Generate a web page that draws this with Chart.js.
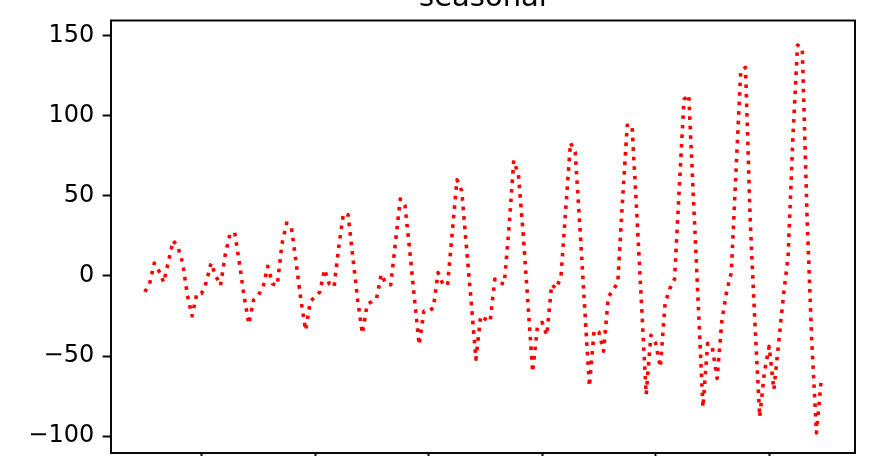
<!DOCTYPE html>
<html>
<head>
<meta charset="utf-8">
<script src="https://cdn.jsdelivr.net/npm/chart.js@4/dist/chart.umd.min.js"></script>
<style>
  html, body { margin: 0; padding: 0; background: #ffffff; overflow: hidden; width: 872px; height: 456px; }
  #wrap { position: absolute; left: 0; top: -40px; width: 872px; height: 543px; }
</style>
</head>
<body>
<div id="wrap"><canvas id="chart" width="872" height="543"></canvas></div>
<script>
// Seasonal component, monthly, one array per year (Jan..Dec)
const seasonal1949 = [-10, -5, 8, 3, -4, 9, 22, 18, 8, -12, -25, -11];
const seasonal1950 = [-11, -4, 8, 0, -6, 13, 26, 27, 8, -13, -30, -15];
const seasonal1951 = [-12, -7, 6, -5, -6, 20, 33, 30, 8, -15, -34, -16];
const seasonal1952 = [-13, -10, 4, -5, -7, 18, 39, 38, 11, -15, -36, -18];
const seasonal1953 = [-16, -14, 1, -5, -5.5, 21, 48, 44, 16, -14, -43, -22];
const seasonal1954 = [-22, -20, 2, -5, -6, 27, 60, 53, 18, -16, -52, -25];
const seasonal1955 = [-27, -28.5, -2, -4.5, -5, 30, 72, 63, 26, -17, -60, -32];
const seasonal1956 = [-29, -37, -5.5, -8, 0, 42, 83, 77, 30, -20, -69, -34];
const seasonal1957 = [-35, -47, -13, -9, -4, 47, 94, 94, 40, -17, -74, -37];
const seasonal1958 = [-42, -57, -17, -8, -2, 55, 110, 113, 48, -17, -82, -42];
const seasonal1959 = [-45, -64, -28, -10, 2, 66, 128, 130, 34, -30, -88, -60];
const seasonal1960 = [-44, -71, -42, -13, 12, 85, 144, 142, 38, -40, -98, -65];

const xTickMonths = [12, 36, 60, 84, 108, 132];       // month index of each labelled January
const xTickLabels = ['1950', '1952', '1954', '1956', '1958', '1960'];
const yTickValues = [-100, -50, 0, 50, 100, 150];
const titleText = 'seasonal';

const seasonal = [].concat(
  seasonal1949, seasonal1950, seasonal1951, seasonal1952,
  seasonal1953, seasonal1954, seasonal1955, seasonal1956,
  seasonal1957, seasonal1958, seasonal1959, seasonal1960
);
const points = seasonal.map((v, i) => ({ x: i, y: v }));

const PT = 2.4; // pixels per point
const FONT = "'DejaVu Sans', sans-serif";

// black frame around the plotting area, and the axes title centred over it
const frame = {
  id: 'frame',
  afterDatasetsDraw(chart) {
    const a = chart.chartArea, ctx = chart.ctx;
    ctx.save();
    ctx.strokeStyle = '#000';
    ctx.lineWidth = 0.8 * PT;
    ctx.strokeRect(a.left, a.top, a.right - a.left, a.bottom - a.top);
    ctx.fillStyle = '#000';
    ctx.font = '29px ' + FONT;
    ctx.textAlign = 'center';
    ctx.textBaseline = 'alphabetic';
    ctx.fillText(titleText, (a.left + a.right) / 2, a.top - 6 * PT);
    ctx.restore();
  }
};

new Chart(document.getElementById('chart'), {
  type: 'line',
  data: {
    datasets: [{
      data: points,
      borderColor: '#ff0000',
      borderWidth: 1.5 * PT,
      borderDash: [1.5 * PT, 1.5 * 1.65 * PT],
      borderCapStyle: 'butt',
      borderJoinStyle: 'round',
      pointRadius: 0,
      tension: 0,
      fill: false
    }]
  },
  options: {
    responsive: false,
    animation: false,
    devicePixelRatio: 1,
    layout: { padding: { left: 0, right: 17, top: 60.5, bottom: 0 } },
    plugins: {
      legend: { display: false },
      tooltip: { enabled: false },
      title: { display: false }
    },
    scales: {
      x: {
        type: 'linear',
        min: -7.15,
        max: 150.15,
        afterBuildTicks: (scale) => { scale.ticks = xTickMonths.map(v => ({ value: v })); },
        afterFit: (scale) => { scale.height = 50; },
        border: { display: false },
        grid: { drawOnChartArea: false, drawTicks: true, tickLength: 3.5 * PT, tickWidth: 0.8 * PT, tickColor: '#000' },
        ticks: {
          color: '#000',
          padding: 3.5 * PT,
          maxRotation: 0,
          autoSkip: false,
          font: { family: FONT, size: 24 },
          callback: (v) => { const k = xTickMonths.indexOf(v); return k >= 0 ? xTickLabels[k] : ''; }
        }
      },
      y: {
        type: 'linear',
        min: -110.5,
        max: 159.3,
        afterBuildTicks: (scale) => { scale.ticks = yTickValues.map(v => ({ value: v })); },
        afterFit: (scale) => { scale.width = 111; },
        border: { display: false },
        grid: { drawOnChartArea: false, drawTicks: true, tickLength: 3.5 * PT, tickWidth: 0.8 * PT, tickColor: '#000' },
        ticks: {
          color: '#000',
          padding: 3.5 * PT,
          font: { family: FONT, size: 24 },
          callback: (v) => (v < 0 ? '\u2212' + Math.abs(v) : String(v))
        }
      }
    }
  },
  plugins: [frame]
});
</script>
</body>
</html>
